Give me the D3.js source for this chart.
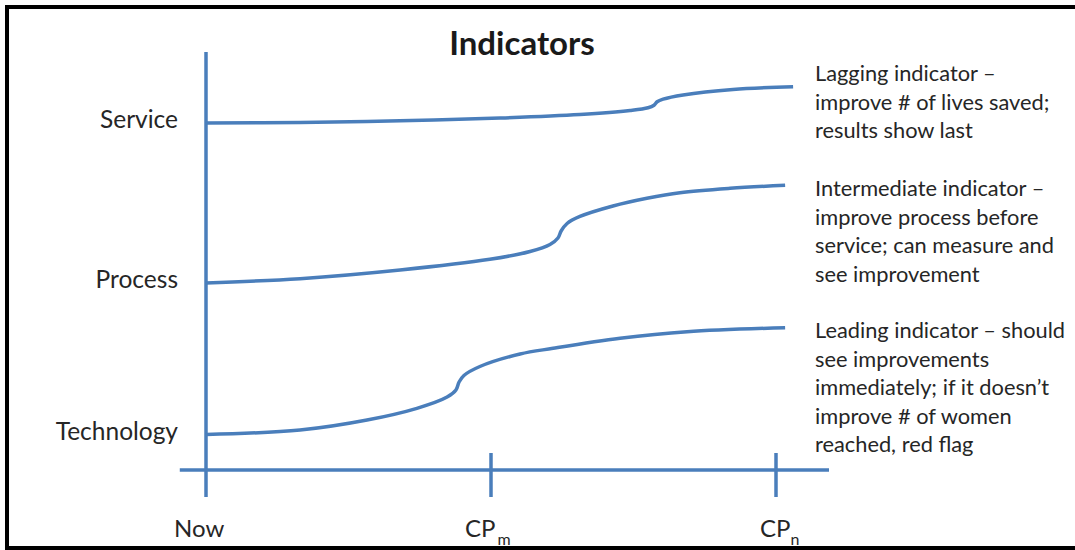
<!DOCTYPE html>
<html>
<head>
<meta charset="utf-8">
<script src="https://cdn.jsdelivr.net/npm/d3@7"></script>
<style>
  html, body { margin: 0; padding: 0; background: #fff; }
  svg { display: block; }
  text { font-family: Lato, "Open Sans", sans-serif; fill: #262626; }
</style>
</head>
<body>
<svg id="chart" width="1075" height="550"></svg>
<script>
// ---------- data ----------
const title = "Indicators";
const categories = ["Service", "Process", "Technology"];
const tickValues = [0, 1, 2];
const tickLabels = ["Now", "CP", "CP"];
const tickSubscripts = ["", "m", "n"];

// time (Now = 0, CPm = 1, CPn = 2) and indicator level (0-100)
const serviceT = [0, 0.330, 0.681, 1.032, 1.312, 1.488, 1.551, 1.572, 1.583, 1.604, 1.674, 1.849, 2.060];
const serviceV = [83.01, 83.16, 83.54, 84.21, 85.05, 86.00, 86.65, 87.27, 88.09, 88.71, 89.71, 91.03, 91.70];
const processT = [0, 0.330, 0.681, 0.996, 1.137, 1.207, 1.235, 1.246, 1.267, 1.312, 1.428, 1.547, 1.663, 1.839, 2.032];
const processV = [44.74, 45.77, 47.85, 50.41, 52.27, 53.95, 55.50, 57.18, 58.97, 60.65, 63.16, 65.00, 66.34, 67.39, 68.11];
const technologyT = [0, 0.330, 0.565, 0.740, 0.846, 0.877, 0.888, 0.905, 0.961, 1.102, 1.218, 1.453, 1.688, 2.032];
const technologyV = [8.49, 9.57, 11.96, 14.76, 17.46, 19.14, 21.05, 22.61, 24.76, 27.75, 29.11, 31.51, 33.09, 34.04];

const annotations = [
  ["Lagging indicator \u2013", "improve # of lives saved;", "results show last"],
  ["Intermediate indicator \u2013", "improve process before", "service; can measure and", "see improvement"],
  ["Leading indicator \u2013 should", "see improvements", "immediately; if  it doesn\u2019t", "improve # of women", "reached, red flag"]
];

// ---------- layout ----------
const svg = d3.select("#chart");
const blue = "#4A7EBB";
const x = d3.scaleLinear().domain([0, 2]).range([206, 776]);
const y = d3.scaleLinear().domain([0, 100]).range([470, 52]);

// frame
svg.append("rect").attr("x", 7).attr("y", 7).attr("width", 1080).attr("height", 541)
  .attr("fill", "none").attr("stroke", "#000").attr("stroke-width", 4);

// title
svg.append("text").attr("x", 522).attr("y", 55).attr("text-anchor", "middle")
  .style("font-size", "33px").style("font-weight", "bold").style("fill", "#1a1a1a").text(title);

// axes
const axisG = svg.append("g").attr("stroke", blue).attr("stroke-width", 3.5).attr("fill", "none");
axisG.append("line").attr("x1", x(0)).attr("x2", x(0)).attr("y1", y(100)).attr("y2", y(0) + 27);
axisG.append("line").attr("x1", x(-0.092)).attr("x2", x(2.186)).attr("y1", y(0)).attr("y2", y(0));
axisG.selectAll("line.tick").data(tickValues.slice(1)).enter().append("line").attr("class", "tick")
  .attr("x1", d => x(d)).attr("x2", d => x(d)).attr("y1", y(0) - 17).attr("y2", y(0) + 27);

// tick labels
const labelShift = [-32, -26, -16];
tickValues.forEach((v, i) => {
  const t = svg.append("text").attr("x", x(v) + labelShift[i]).attr("y", 537).style("font-size", "24px");
  t.append("tspan").text(tickLabels[i]);
  if (tickSubscripts[i]) {
    t.append("tspan").attr("dx", i === 1 ? 2 : 0).attr("dy", 8).style("font-size", "16px").text(tickSubscripts[i]);
  }
});

// series
const seriesT = [serviceT, processT, technologyT];
const seriesV = [serviceV, processV, technologyV];
const line = d3.line().x(d => x(d[0])).y(d => y(d[1])).curve(d3.curveCatmullRom.alpha(0.5));
seriesT.forEach((ts, i) => {
  const pts = ts.map((t, j) => [t, seriesV[i][j]]);
  svg.append("path").attr("d", line(pts)).attr("fill", "none")
    .attr("stroke", blue).attr("stroke-width", 3.5);
});

// category labels
categories.forEach((c, i) => {
  svg.append("text").attr("x", 178).attr("y", y(seriesV[i][0]) + 5)
    .attr("text-anchor", "end").style("font-size", "24.5px").text(c);
});

// annotations
const annoTop = [81, 196, 338];
annotations.forEach((lines, i) => {
  lines.forEach((s, j) => {
    svg.append("text").attr("x", 815).attr("y", annoTop[i] + j * 28.6)
      .style("font-size", "21.8px").text(s);
  });
});
</script>
</body>
</html>
